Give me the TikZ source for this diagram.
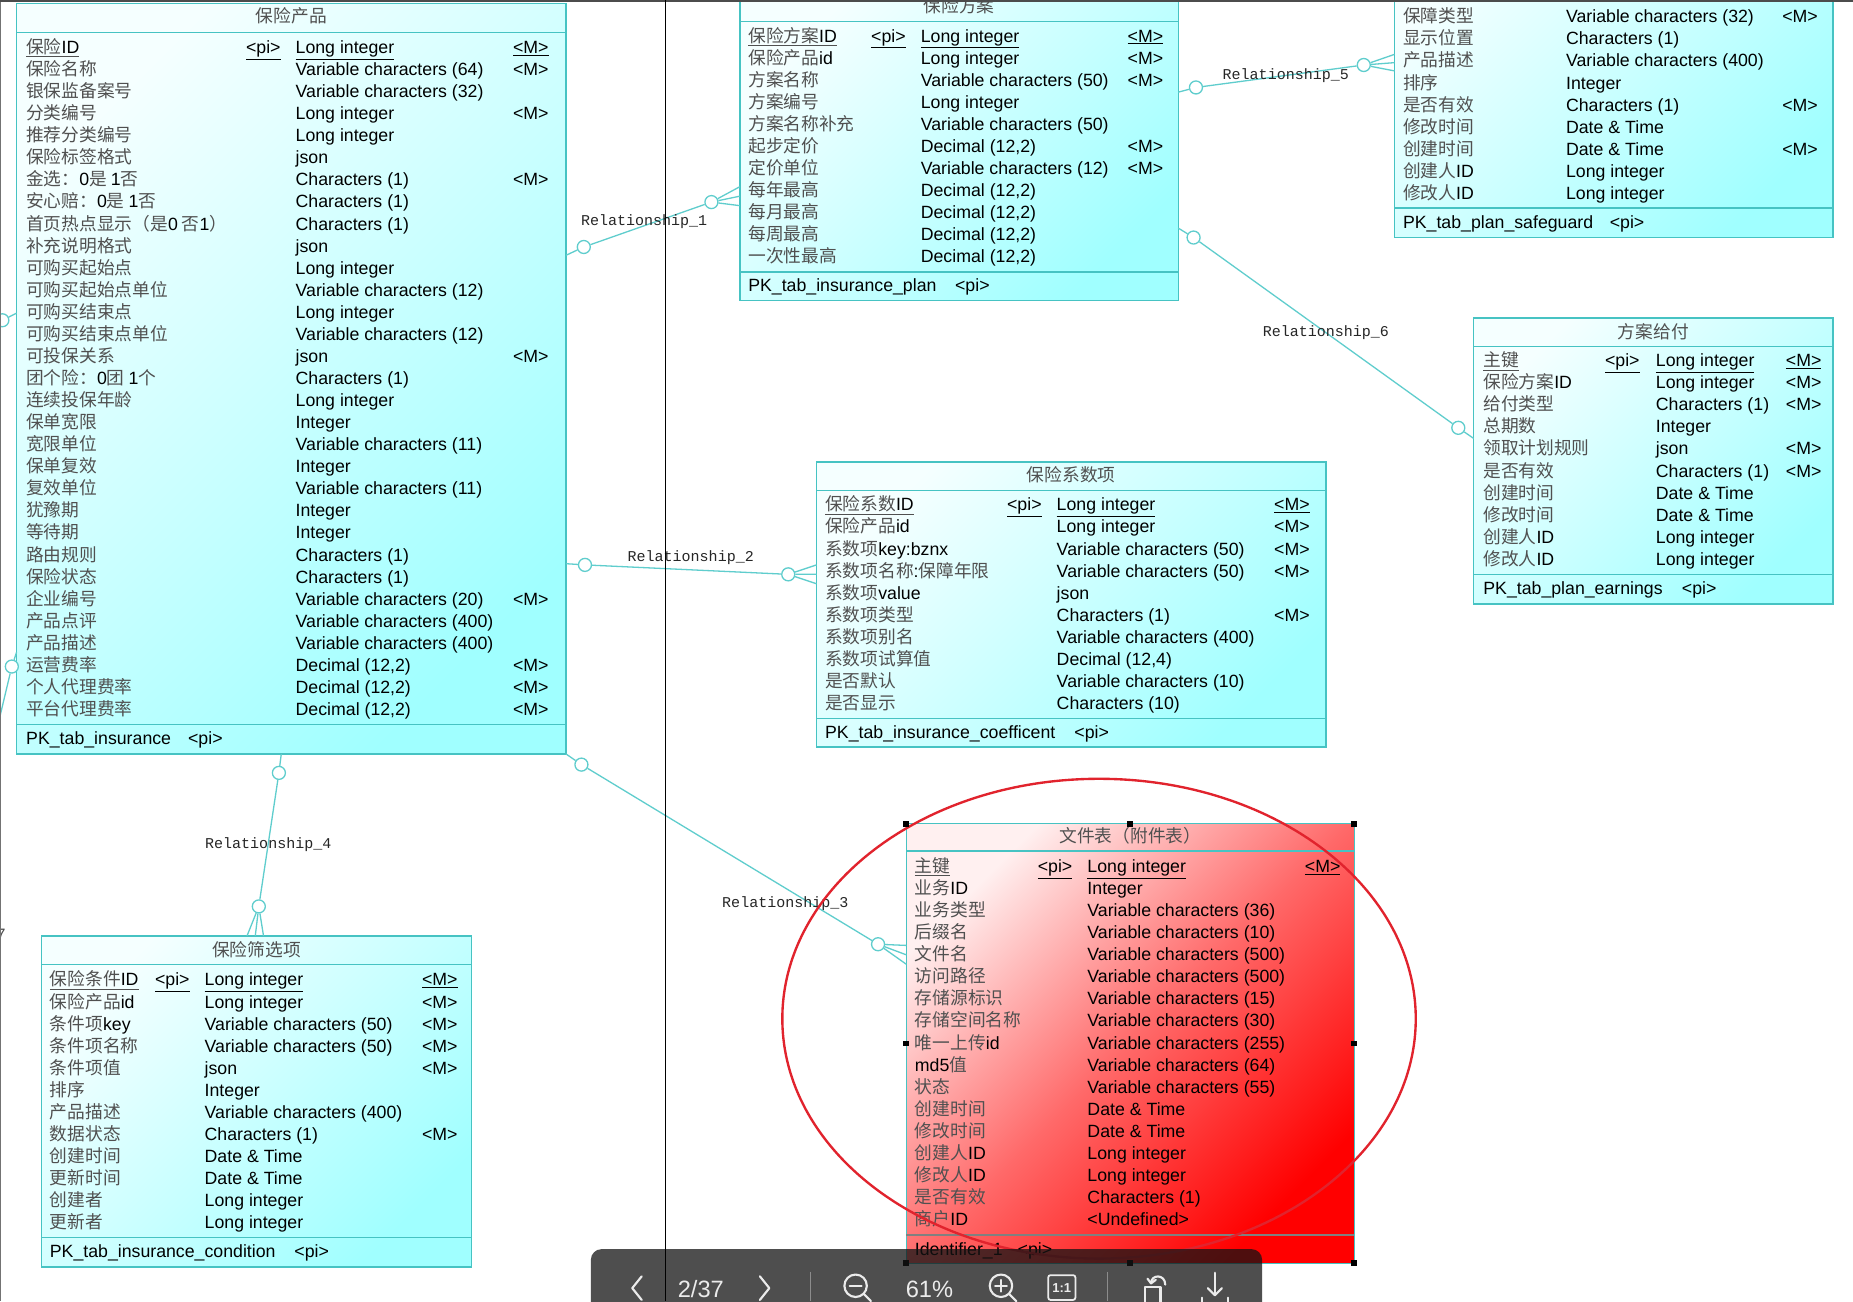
\documentclass[tikz,border=0pt]{standalone}
\usepackage{fontspec}
\setmainfont{Liberation Sans}
\setmonofont{Liberation Mono}
\newfontfamily\cjk{Noto Sans CJK SC}
\definecolor{cline}{RGB}{95,205,205}
\definecolor{cbord}{RGB}{70,195,195}
\definecolor{cyl}{RGB}{245,255,255}
\definecolor{cyd}{RGB}{160,255,255}
\definecolor{cgray}{RGB}{80,80,80}
\definecolor{rd}{RGB}{255,0,0}
\definecolor{rdl}{RGB}{255,240,240}
\definecolor{rdm}{RGB}{255,105,105}
\definecolor{ell}{RGB}{225,35,45}
\definecolor{tbfg}{RGB}{235,235,235}
\definecolor{tbbg}{RGB}{20,20,20}
\newcommand\la[1]{{\rmfamily\color{black}#1}}
\newcounter{ri}
\newcommand\setT[6]{\def\tbn{#1}\def\eN{#2}\def\eP{#3}\def\eT{#4}\def\eM{#5}\def\eY{#6}\setcounter{ri}{0}}
\newcommand\er[3]{%
  \edef\rn{\number\value{ri}}%
  \pgfmathsetmacro\yy{\eY+18.67*\rn+5.3}%
  \node[nm] (\tbn n\rn) at (\eN,\yy) {#1};%
  \node[ty] (\tbn t\rn) at (\eT,\yy) {#2};%
  \ifx\relax#3\relax\else\node[ty] (\tbn m\rn) at (\eM,\yy) {#3};\fi
  \stepcounter{ri}}
\newcommand\pk[2]{%
  \pgfmathsetmacro\yy{\eY+5.3}%
  \node[nm] (\tbn n0) at (\eN,\yy) {\underline{#1}};%
  \node[ty] (\tbn p0) at (\eP,\yy) {\underline{<pi>}};%
  \node[ty] (\tbn t0) at (\eT,\yy) {\underline{#2}};%
  \node[ty] (\tbn m0) at (\eM,\yy) {\underline{<M>}};%
  \setcounter{ri}{1}}
\tikzset{
 tbl/.style={rectangle, draw=cbord, line width=1.2pt, anchor=north west, inner sep=0pt, outer sep=0pt, top color=cyl, bottom color=cyd, shading angle=45},
 sepl/.style={draw=cbord, line width=1.2pt},
 ttl/.style={anchor=base, inner sep=0pt, font=\fontsize{15}{18}\selectfont\cjk, text=cgray},
 nm/.style={anchor=base west, inner sep=0pt, font=\fontsize{15}{18}\selectfont\cjk, text=cgray},
 ty/.style={anchor=base west, inner sep=0pt, font=\fontsize{15}{18}\selectfont, text=black},
 conn/.style={draw=cline, line width=1.1pt},
 circ/.style={circle, draw=cline, fill=white, line width=1.1pt, minimum size=11pt, inner sep=0pt},
 rel/.style={anchor=base, inner sep=0pt, font=\fontsize{12.7}{14}\selectfont\ttfamily, text=black!85},
 tb/.style={draw=tbfg, line width=1.8pt, line cap=round, line join=round},
 tbt/.style={inner sep=0pt, text=tbfg, font=\fontsize{20}{22}\selectfont},
 hdl/.style={fill=black},
}
\begin{document}
\begin{tikzpicture}[x=1pt,y=-1pt]
\useasboundingbox (0,0) rectangle (1568,1101);
\clip (0,0) rectangle (1568,1101);
\fill[white] (0,0) rectangle (1568,1101);

% ---------- T1 保险产品
\node[tbl, minimum width=465pt, minimum height=635pt] (T1) at (14,3) {};
\draw[sepl] (14,27.5) -- (479,27.5);
\draw[sepl] (14,613) -- (479,613);
\node[ttl] (T1h) at (246.5,19.3) {保险产品};
\setT{A}{22}{208}{250}{434}{40}
\pk{保险\la{ID}}{Long integer}
\er{保险名称}{Variable characters (64)}{<M>}
\er{银保监备案号}{Variable characters (32)}{}
\er{分类编号}{Long integer}{<M>}
\er{推荐分类编号}{Long integer}{}
\er{保险标签格式}{json}{}
\er{金选：\la{0}是 \la{1}否}{Characters (1)}{<M>}
\er{安心赔：\la{0}是 \la{1}否}{Characters (1)}{}
\er{首页热点显示（是\la{0} 否\la{1}）}{Characters (1)}{}
\er{补充说明格式}{json}{}
\er{可购买起始点}{Long integer}{}
\er{可购买起始点单位}{Variable characters (12)}{}
\er{可购买结束点}{Long integer}{}
\er{可购买结束点单位}{Variable characters (12)}{}
\er{可投保关系}{json}{<M>}
\er{团个险：\la{0}团 \la{1}个}{Characters (1)}{}
\er{连续投保年龄}{Long integer}{}
\er{保单宽限}{Integer}{}
\er{宽限单位}{Variable characters (11)}{}
\er{保单复效}{Integer}{}
\er{复效单位}{Variable characters (11)}{}
\er{犹豫期}{Integer}{}
\er{等待期}{Integer}{}
\er{路由规则}{Characters (1)}{}
\er{保险状态}{Characters (1)}{}
\er{企业编号}{Variable characters (20)}{<M>}
\er{产品点评}{Variable characters (400)}{}
\er{产品描述}{Variable characters (400)}{}
\er{运营费率}{Decimal (12,2)}{<M>}
\er{个人代理费率}{Decimal (12,2)}{<M>}
\er{平台代理费率}{Decimal (12,2)}{<M>}
\node[ty] (Apk) at (22,630.3) {PK\_tab\_insurance};
\node[ty] (Apkpi) at (159,630.3) {<pi>};

% ---------- T2 保险方案
\node[tbl, minimum width=371pt, minimum height=260.5pt] (T2) at (626,-6) {};
\draw[sepl] (626,18.3) -- (997,18.3);
\draw[sepl] (626,230) -- (997,230);
\node[ttl] (T2h) at (811.5,10.3) {保险方案};
\setT{B}{633}{737}{779}{954}{30.3}
\pk{保险方案\la{ID}}{Long integer}
\er{保险产品\la{id}}{Long integer}{<M>}
\er{方案名称}{Variable characters (50)}{<M>}
\er{方案编号}{Long integer}{}
\er{方案名称补充}{Variable characters (50)}{}
\er{起步定价}{Decimal (12,2)}{<M>}
\er{定价单位}{Variable characters (12)}{<M>}
\er{每年最高}{Decimal (12,2)}{}
\er{每月最高}{Decimal (12,2)}{}
\er{每周最高}{Decimal (12,2)}{}
\er{一次性最高}{Decimal (12,2)}{}
\node[ty] (Bpk) at (633,246.3) {PK\_tab\_insurance\_plan};
\node[ty] (Bpkpi) at (808,246.3) {<pi>};

% ---------- T3 safeguard
\node[tbl, minimum width=371pt, minimum height=261pt] (T3) at (1180,-60) {};
\draw[sepl] (1180,176) -- (1551,176);
\setT{C}{1187}{0}{1325}{1508}{14}
\er{保障类型}{Variable characters (32)}{<M>}
\er{显示位置}{Characters (1)}{}
\er{产品描述}{Variable characters (400)}{}
\er{排序}{Integer}{}
\er{是否有效}{Characters (1)}{<M>}
\er{修改时间}{Date \& Time}{}
\er{创建时间}{Date \& Time}{<M>}
\er{创建人\la{ID}}{Long integer}{}
\er{修改人\la{ID}}{Long integer}{}
\node[ty] (Cpk) at (1187,193.3) {PK\_tab\_plan\_safeguard};
\node[ty] (Cpkpi) at (1362,193.3) {<pi>};

% ---------- T4 方案给付
\node[tbl, minimum width=304pt, minimum height=242pt] (T4) at (1247,269) {};
\draw[sepl] (1247,293) -- (1551,293);
\draw[sepl] (1247,486) -- (1551,486);
\node[ttl] (T4h) at (1399,286.3) {方案给付};
\setT{D}{1255}{1358}{1401}{1511}{305}
\pk{主键}{Long integer}
\er{保险方案\la{ID}}{Long integer}{<M>}
\er{给付类型}{Characters (1)}{<M>}
\er{总期数}{Integer}{}
\er{领取计划规则}{json}{<M>}
\er{是否有效}{Characters (1)}{<M>}
\er{创建时间}{Date \& Time}{}
\er{修改时间}{Date \& Time}{}
\er{创建人\la{ID}}{Long integer}{}
\er{修改人\la{ID}}{Long integer}{}
\node[ty] (Dpk) at (1255,503.3) {PK\_tab\_plan\_earnings};
\node[ty] (Dpkpi) at (1423,503.3) {<pi>};

% ---------- T5 保险系数项
\node[tbl, minimum width=431pt, minimum height=241pt] (T5) at (691,391) {};
\draw[sepl] (691,415) -- (1122,415);
\draw[sepl] (691,608) -- (1122,608);
\node[ttl] (T5h) at (906.5,407.3) {保险系数项};
\setT{E}{698}{852}{894}{1078}{427}
\pk{保险系数\la{ID}}{Long integer}
\er{保险产品\la{id}}{Long integer}{<M>}
\er{系数项\la{key:bznx}}{Variable characters (50)}{<M>}
\er{系数项名称\la{:}保障年限}{Variable characters (50)}{<M>}
\er{系数项\la{value}}{json}{}
\er{系数项类型}{Characters (1)}{<M>}
\er{系数项别名}{Variable characters (400)}{}
\er{系数项试算值}{Decimal (12,4)}{}
\er{是否默认}{Variable characters (10)}{}
\er{是否显示}{Characters (10)}{}
\node[ty] (Epk) at (698,625.3) {PK\_tab\_insurance\_coefficent};
\node[ty] (Epkpi) at (909,625.3) {<pi>};

% ---------- T7 保险筛选项
\node[tbl, minimum width=364pt, minimum height=280pt] (T7) at (35,792) {};
\draw[sepl] (35,816) -- (399,816);
\draw[sepl] (35,1047) -- (399,1047);
\node[ttl] (T7h) at (217,809.3) {保险筛选项};
\setT{G}{42}{131}{173}{357}{829}
\pk{保险条件\la{ID}}{Long integer}
\er{保险产品\la{id}}{Long integer}{<M>}
\er{条件项\la{key}}{Variable characters (50)}{<M>}
\er{条件项名称}{Variable characters (50)}{<M>}
\er{条件项值}{json}{<M>}
\er{排序}{Integer}{}
\er{产品描述}{Variable characters (400)}{}
\er{数据状态}{Characters (1)}{<M>}
\er{创建时间}{Date \& Time}{}
\er{更新时间}{Date \& Time}{}
\er{创建者}{Long integer}{}
\er{更新者}{Long integer}{}
\node[ty] (Gpk) at (42,1064.3) {PK\_tab\_insurance\_condition};
\node[ty] (Gpkpi) at (249,1064.3) {<pi>};

% ---------- T6 文件表
\node[tbl, minimum width=379pt, minimum height=372pt, top color=rdl, bottom color=rd, middle color=rdm, shading angle=45] (T6) at (767,697) {};
\draw[sepl] (767,720) -- (1146,720);
\draw[draw=gray, line width=1.2pt] (767,1045) -- (1146,1045);
\node[ttl] (T6h) at (956.5,713.3) {文件表（附件表）};
\setT{F}{774}{878}{920}{1104}{733}
\pk{主键}{Long integer}
\er{业务\la{ID}}{Integer}{}
\er{业务类型}{Variable characters (36)}{}
\er{后缀名}{Variable characters (10)}{}
\er{文件名}{Variable characters (500)}{}
\er{访问路径}{Variable characters (500)}{}
\er{存储源标识}{Variable characters (15)}{}
\er{存储空间名称}{Variable characters (30)}{}
\er{唯一上传\la{id}}{Variable characters (255)}{}
\er{\la{md5}值}{Variable characters (64)}{}
\er{状态}{Variable characters (55)}{}
\er{创建时间}{Date \& Time}{}
\er{修改时间}{Date \& Time}{}
\er{创建人\la{ID}}{Long integer}{}
\er{修改人\la{ID}}{Long integer}{}
\er{是否有效}{Characters (1)}{}
\er{商户\la{ID}}{<Undefined>}{}
\node[ty] (Fpk) at (774,1062.3) {Identifier\_1};
\node[ty] (Fpkpi) at (861,1062.3) {<pi>};

% ---------- connectors
% R1
\coordinate (r1s) at (479,216);
\node[circ] (r1a) at (494,209) {};
\node[circ] (r1b) at (602,171) {};
\coordinate (r1f1) at (626,158); \coordinate (r1f2) at (626,166); \coordinate (r1f3) at (626,174);
\draw[conn] (r1s) -- (r1a) -- (r1b);
\draw[conn] (r1b) -- (r1f1) (r1b) -- (r1f2) (r1b) -- (r1f3);
\node[rel] (l1) at (545,191) {Relationship\_1};
% R2
\coordinate (r2s) at (479,477);
\node[circ] (r2a) at (495,478) {};
\node[circ] (r2b) at (667,486) {};
\coordinate (r2f1) at (691,478); \coordinate (r2f2) at (691,486); \coordinate (r2f3) at (691,494);
\draw[conn] (r2s) -- (r2a) -- (r2b);
\draw[conn] (r2b) -- (r2f1) (r2b) -- (r2f2) (r2b) -- (r2f3);
\node[rel] (l2) at (584.5,475) {Relationship\_2};
% R3
\coordinate (r3s) at (479,638);
\node[circ] (r3a) at (492,647) {};
\node[circ] (r3b) at (743,799) {};
\coordinate (r3f1) at (767,800); \coordinate (r3f2) at (767,808); \coordinate (r3f3) at (767,816);
\draw[conn] (r3s) -- (r3a) -- (r3b);
\draw[conn] (r3b) -- (r3f1) (r3b) -- (r3f2) (r3b) -- (r3f3);
\node[rel] (l3) at (664.5,768) {Relationship\_3};
% R4
\coordinate (r4s) at (238,638);
\node[circ] (r4a) at (236,654) {};
\node[circ] (r4b) at (219,767) {};
\coordinate (r4f1) at (209,792); \coordinate (r4f2) at (216,792); \coordinate (r4f3) at (223,792);
\draw[conn] (r4s) -- (r4a) -- (r4b);
\draw[conn] (r4b) -- (r4f1) (r4b) -- (r4f2) (r4b) -- (r4f3);
\node[rel] (l4) at (227,718) {Relationship\_4};
% R5
\coordinate (r5s) at (997,78);
\node[circ] (r5a) at (1012,74) {};
\node[circ] (r5b) at (1154,55) {};
\coordinate (r5f1) at (1180,46); \coordinate (r5f2) at (1180,53); \coordinate (r5f3) at (1180,60);
\draw[conn] (r5s) -- (r5a) -- (r5b);
\draw[conn] (r5b) -- (r5f1) (r5b) -- (r5f2) (r5b) -- (r5f3);
\node[rel] (l5) at (1088,67) {Relationship\_5};
% R6
\coordinate (r6s) at (997,193);
\node[circ] (r6a) at (1010,201) {};
\node[circ] (r6b) at (1234,362) {};
\coordinate (r6e) at (1247,371);
\draw[conn] (r6s) -- (r6a) -- (r6b) -- (r6e);
\node[rel] (l6) at (1122,285) {Relationship\_6};
% left edge connectors
\coordinate (l7s) at (14,265);
\node[circ] (l7a) at (2,271) {};
\draw[conn] (l7s) -- (l7a);
\coordinate (l8s) at (14,552);
\node[circ] (l8a) at (10,564) {};
\coordinate (l8e) at (0,606);
\draw[conn] (l8s) -- (l8a) -- (l8e);
\node[anchor=base east, inner sep=0pt, font=\fontsize{14}{16}\selectfont, text=black!70] (seven) at (5,796) {7};

% ---------- red ellipse and selection handles
\draw[ell, line width=2pt] (930,862) ellipse [x radius=268, y radius=203];
\foreach \p in {(767,697),(956,697),(1146,697),(767,883),(1146,883),(767,1069),(956,1069),(1146,1069)}
  \fill[hdl] \p ++(-2.5,-2.5) rectangle ++(5,5);

% ---------- frame lines
\draw[black!55, line width=1pt] (0.5,0) -- (0.5,1101);
\fill[black!70] (0,0) rectangle (1568,2);

% ---------- toolbar
\fill[tbbg, fill opacity=0.75, rounded corners=9pt] (500,1057) rectangle (1068,1120);
\draw[tb] (543,1080) -- (535,1090) -- (543,1100);
\node[tbt] (pg) at (593,1091) {2/37};
\draw[tb] (643,1080) -- (651,1090) -- (643,1100);
\draw[black!45, line width=1pt] (686,1076) -- (686,1101);
\draw[tb] (724,1088) circle [radius=9.5];
\draw[tb] (731,1095) -- (737,1101);
\draw[tb] (719,1088) -- (729,1088);
\node[tbt] (zm) at (786.5,1091) {61\%};
\draw[tb] (847,1088) circle [radius=9.5];
\draw[tb] (854,1095) -- (860,1101);
\draw[tb] (842,1088) -- (852,1088) (847,1083) -- (847,1093);
\draw[draw=tbfg, line width=1.5pt, rounded corners=2pt] (887,1079) rectangle (910,1100);
\node[inner sep=0pt, text=tbfg, font=\bfseries\fontsize{11}{12}\selectfont] (one) at (898.5,1089.5) {1:1};
\draw[black!45, line width=1pt] (937,1076) -- (937,1101);
\draw[tb] (969,1089) rectangle (982,1103);
\draw[tb] (974,1086) .. controls (974,1078) and (986,1078) .. (986,1087);
\draw[tb] (971,1082) -- (974,1086) -- (978,1083);
\draw[tb] (1028,1077) -- (1028,1096);
\draw[tb] (1022,1090) -- (1028,1096) -- (1034,1090);
\draw[tb] (1017,1098) -- (1017,1103) (1039,1098) -- (1039,1103);

% ---------- vertical black line
\draw[black, line width=0.9pt] (563,0) -- (563,1101);
\end{tikzpicture}
\end{document}
